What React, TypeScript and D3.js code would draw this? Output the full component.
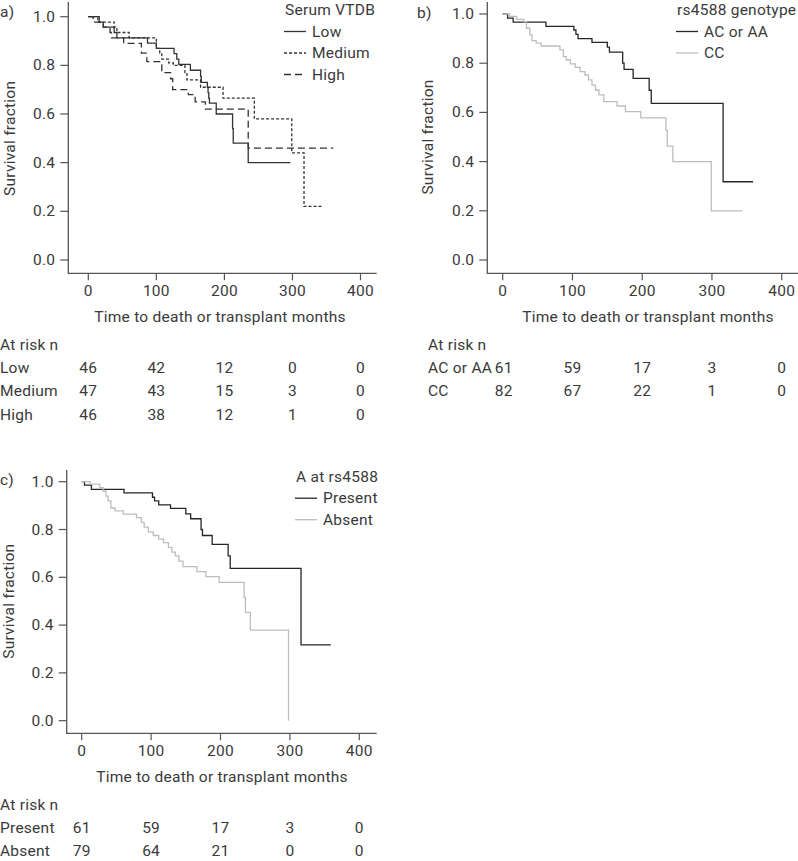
import React from "react";
import * as d3 from "d3";

// ---------- DATA ----------
const xTicks = [0, 100, 200, 300, 400];
const yTicks = [0, 0.2, 0.4, 0.6, 0.8, 1.0];

// Panel a: Serum VTDB
const lowT = [0, 16, 22, 38, 42, 87, 100, 126, 130, 133, 150, 165, 166, 175, 176, 177, 178, 188, 212, 213, 235, 297];
const lowS = [1, 0.978, 0.957, 0.935, 0.913, 0.891, 0.87, 0.848, 0.826, 0.804, 0.78, 0.755, 0.73, 0.71, 0.688, 0.665, 0.645, 0.6, 0.54, 0.48, 0.4, 0.4];
const medT = [0, 14, 38, 42, 60, 100, 105, 108, 118, 125, 142, 145, 165, 198, 244, 299, 317, 345];
const medS = [1, 0.978, 0.957, 0.935, 0.913, 0.87, 0.85, 0.826, 0.81, 0.8, 0.77, 0.74, 0.71, 0.665, 0.58, 0.44, 0.22, 0.22];
const highT = [0, 7, 22, 32, 34, 52, 78, 86, 108, 121, 124, 147, 157, 172, 235, 360];
const highS = [1, 0.978, 0.957, 0.935, 0.913, 0.89, 0.85, 0.815, 0.77, 0.745, 0.7, 0.68, 0.65, 0.62, 0.46, 0.46];
const riskA = ["Low", "Medium", "High"];
const riskLow = [46, 42, 12, 0, 0];
const riskMed = [47, 43, 15, 3, 0];
const riskHigh = [46, 38, 12, 1, 0];

// Panel b: rs4588 genotype
const acT = [0, 7, 15, 62, 102, 105, 108, 128, 150, 153, 172, 174, 187, 210, 213, 316, 359];
const acS = [1, 0.983, 0.967, 0.95, 0.935, 0.917, 0.9, 0.885, 0.865, 0.845, 0.8, 0.775, 0.738, 0.69, 0.637, 0.318, 0.318];
const ccT = [0, 10, 20, 30, 34, 39, 42, 48, 55, 82, 87, 91, 97, 104, 111, 118, 123, 128, 133, 138, 145, 164, 176, 198, 234, 236, 244, 299, 344];
const ccS = [1, 0.99, 0.978, 0.969, 0.942, 0.915, 0.892, 0.882, 0.87, 0.854, 0.827, 0.813, 0.797, 0.783, 0.766, 0.752, 0.732, 0.711, 0.691, 0.671, 0.644, 0.626, 0.603, 0.578, 0.528, 0.463, 0.4, 0.2, 0.2];
const riskB = ["AC or AA", "CC"];
const riskAC = [61, 59, 17, 3, 0];
const riskCC = [82, 67, 22, 1, 0];

// Panel c: A at rs4588
const presT = [0, 4, 14, 61, 102, 105, 111, 128, 150, 157, 172, 174, 188, 211, 214, 316, 359];
const presS = [1, 0.986, 0.968, 0.953, 0.935, 0.92, 0.903, 0.888, 0.865, 0.845, 0.8, 0.775, 0.738, 0.69, 0.637, 0.317, 0.317];
const absT = [0, 12, 26, 31, 35, 38, 42, 48, 60, 79, 86, 90, 96, 103, 111, 118, 125, 130, 135, 140, 146, 166, 179, 198, 234, 236, 243, 298];
const absS = [1, 0.99, 0.975, 0.96, 0.94, 0.92, 0.89, 0.878, 0.864, 0.85, 0.83, 0.81, 0.79, 0.775, 0.76, 0.745, 0.725, 0.705, 0.69, 0.668, 0.645, 0.624, 0.603, 0.579, 0.516, 0.453, 0.379, 0];
const riskC = ["Present", "Absent"];
const riskPres = [61, 59, 17, 3, 0];
const riskAbs = [79, 64, 21, 0, 0];

// ---------- STYLE ----------
const FONT = "Roboto, 'DejaVu Sans', sans-serif";
const TXT = "#3a3a3a";
const FS = 15.5;
const LS = 0.25;
const DARK = "#262626";
const GRAY = "#bdbdbd";
const AXIS = "#555";

type Series = { name: string; t: number[]; s: number[]; color: string; dash?: string };

type PanelCfg = {
  label: string;
  labelX: number;
  labelY: number;
  xRange: [number, number];
  yRange: [number, number];
  axisX: number;
  axisTop: number;
  axisY: number;
  axisRight: number;
  yTitleX: number;
  xTitleX: number;
  legendTitle: string;
  legendX: number;
  legendY: number;
  series: Series[];
  riskNames: string[];
  riskRows: number[][];
  riskLabelX: number;
  riskCol0Shift: number;
};

const panels: PanelCfg[] = [
  {
    label: "a)", labelX: 0, labelY: 12,
    xRange: [88.3, 360.5], yRange: [260, 16.7],
    axisX: 68.3, axisTop: 2, axisY: 273.3, axisRight: 376.7,
    yTitleX: 10, xTitleX: 220,
    legendTitle: "Serum VTDB", legendX: 284, legendY: 10,
    series: [
      { name: "Low", t: lowT, s: lowS, color: "#333" },
      { name: "Medium", t: medT, s: medS, color: "#333", dash: "3,2" },
      { name: "High", t: highT, s: highS, color: "#333", dash: "7,4" },
    ],
    riskNames: riskA, riskRows: [riskLow, riskMed, riskHigh], riskLabelX: 0, riskCol0Shift: 0,
  },
  {
    label: "b)", labelX: 417, labelY: 13,
    xRange: [502.7, 781.7], yRange: [260, 14],
    axisX: 487.3, axisTop: 2, axisY: 273.3, axisRight: 798,
    yTitleX: 428, xTitleX: 648,
    legendTitle: "rs4588 genotype", legendX: 676, legendY: 10,
    series: [
      { name: "AC or AA", t: acT, s: acS, color: DARK },
      { name: "CC", t: ccT, s: ccS, color: GRAY },
    ],
    riskNames: riskB, riskRows: [riskAC, riskCC], riskLabelX: 428, riskCol0Shift: 1,
  },
  {
    label: "c)", labelX: 0, labelY: 480,
    xRange: [81.7, 359.3], yRange: [720.7, 481.7],
    axisX: 66.7, axisTop: 470, axisY: 733.3, axisRight: 376.7,
    yTitleX: 8.5, xTitleX: 222,
    legendTitle: "A at rs4588", legendX: 295, legendY: 476.7,
    series: [
      { name: "Present", t: presT, s: presS, color: DARK },
      { name: "Absent", t: absT, s: absS, color: GRAY },
    ],
    riskNames: riskC, riskRows: [riskPres, riskAbs], riskLabelX: 0, riskCol0Shift: 0,
  },
];

function Panel({ p }: { p: PanelCfg }) {
  const x = d3.scaleLinear().domain([0, 400]).range(p.xRange);
  const y = d3.scaleLinear().domain([0, 1]).range(p.yRange);
  const line = d3
    .line<[number, number]>()
    .x((d) => x(d[0]))
    .y((d) => y(d[1]))
    .curve(d3.curveStepAfter);
  const yMid = (p.yRange[0] + p.yRange[1]) / 2;
  const textProps = { fontFamily: FONT, fontSize: FS, fill: TXT, letterSpacing: LS };
  return (
    <g>
      <text {...textProps} x={p.labelX} y={p.labelY} dominantBaseline="central">
        {p.label}
      </text>
      {/* axes */}
      <path
        d={`M${p.axisX},${p.axisTop}V${p.axisY}H${p.axisRight}`}
        fill="none"
        stroke={AXIS}
        strokeWidth={1.3}
      />
      {yTicks.map((v) => (
        <g key={"y" + v}>
          <line x1={p.axisX - 8} x2={p.axisX} y1={y(v)} y2={y(v)} stroke={AXIS} strokeWidth={1.2} />
          <text {...textProps} x={p.axisX - 13} y={y(v)} textAnchor="end" dominantBaseline="central">
            {d3.format(".1f")(v)}
          </text>
        </g>
      ))}
      {xTicks.map((v) => (
        <g key={"x" + v}>
          <line x1={x(v)} x2={x(v)} y1={p.axisY} y2={p.axisY + 7} stroke={AXIS} strokeWidth={1.2} />
          <text {...textProps} x={x(v)} y={p.axisY + 18} textAnchor="middle" dominantBaseline="central">
            {v}
          </text>
        </g>
      ))}
      <text {...textProps} x={p.xTitleX} y={p.axisY + 43.4} textAnchor="middle" dominantBaseline="central">
        Time to death or transplant months
      </text>
      <text
        {...textProps}
        transform={`translate(${p.yTitleX},${yMid}) rotate(-90)`}
        textAnchor="middle"
        dominantBaseline="central"
      >
        Survival fraction
      </text>
      {/* curves */}
      {p.series.map((s) => (
        <path
          key={s.name}
          d={line(s.t.map((t, i) => [t, s.s[i]] as [number, number])) || ""}
          fill="none"
          stroke={s.color}
          strokeWidth={1.3}
          strokeDasharray={s.dash}
        />
      ))}
      {/* legend */}
      <text {...textProps} x={p.legendX + 1} y={p.legendY} dominantBaseline="central">
        {p.legendTitle}
      </text>
      {p.series.map((s, i) => {
        const ly = p.legendY + 21.5 * (i + 1);
        return (
          <g key={"lg" + s.name}>
            <line
              x1={p.legendX}
              x2={p.legendX + 22}
              y1={ly}
              y2={ly}
              stroke={s.color}
              strokeWidth={1.3}
              strokeDasharray={s.dash}
            />
            <text {...textProps} x={p.legendX + 28} y={ly} dominantBaseline="central">
              {s.name}
            </text>
          </g>
        );
      })}
      {/* at risk table */}
      <text {...textProps} x={p.riskLabelX} y={p.axisY + 71.7} dominantBaseline="central">
        At risk n
      </text>
      {p.riskNames.map((name, r) => {
        const ry = p.axisY + 94.7 + r * 23.3;
        return (
          <g key={"r" + name}>
            <text {...textProps} x={p.riskLabelX} y={ry} dominantBaseline="central">
              {name}
            </text>
            {p.riskRows[r].map((n, j) => (
              <text
                key={j}
                {...textProps}
                x={x(xTicks[j]) + (j === 0 ? p.riskCol0Shift : 0)}
                y={ry}
                textAnchor="middle"
                dominantBaseline="central"
              >
                {n}
              </text>
            ))}
          </g>
        );
      })}
    </g>
  );
}

export default function App() {
  return (
    <svg
      width={798}
      height={861}
      viewBox="0 0 798 861"
      style={{ position: "absolute", left: 0, top: 0, background: "#fff" }}
    >
      <rect width={798} height={861} fill="#fff" />
      {panels.map((p) => (
        <Panel key={p.label} p={p} />
      ))}
    </svg>
  );
}
